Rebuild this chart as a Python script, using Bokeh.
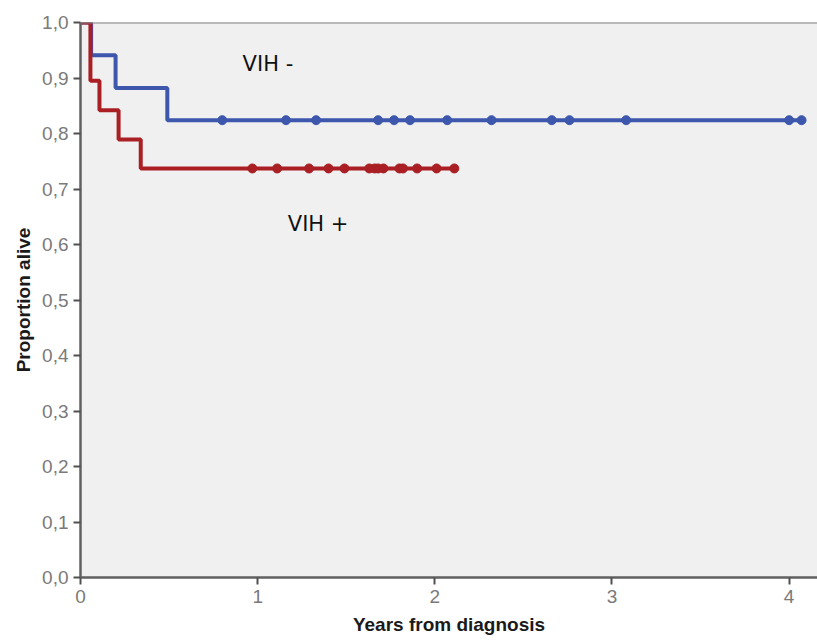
from bokeh.plotting import figure
from bokeh.models import Range1d, FixedTicker, CustomJSTickFormatter, Span, Label
from bokeh.embed import file_html
from bokeh.resources import INLINE

# Kaplan-Meier steps (time in years, proportion alive)
neg_time = [0.0, 0.06, 0.198, 0.49, 4.09]
neg_surv = [1.0, 0.941, 0.882, 0.824, 0.824]
neg_cens = [0.80, 1.16, 1.33, 1.68, 1.77, 1.86, 2.07, 2.32, 2.66, 2.76, 3.08, 4.00, 4.07]

pos_time = [0.0, 0.056, 0.107, 0.215, 0.34, 2.12]
pos_surv = [1.0, 0.895, 0.842, 0.789, 0.737, 0.737]
pos_cens = [0.97, 1.11, 1.29, 1.40, 1.49, 1.63, 1.66, 1.68, 1.71, 1.80, 1.82, 1.90, 2.01, 2.11]

x_ticks = [0, 1, 2, 3, 4]
y_ticks = [0.0, 0.1, 0.2, 0.3, 0.4, 0.5, 0.6, 0.7, 0.8, 0.9, 1.0]

BLUE = "#3d57ad"
RED = "#a91f24"

p = figure(width=817, height=640, output_backend="svg", toolbar_location=None,
           x_range=Range1d(0, 4.16), y_range=Range1d(0, 1.0),
           min_border_left=80, min_border_right=0, min_border_top=22, min_border_bottom=63)
p.background_fill_color = "#f0f0f0"
p.border_fill_color = "white"
p.outline_line_color = None
p.grid.visible = False

top = Span(location=1.0, dimension="width", line_color="#808080", line_width=2)
p.add_layout(top)

p.step(neg_time, neg_surv, mode="after", line_color=BLUE, line_width=4)
p.scatter(neg_cens, [neg_surv[-1]] * len(neg_cens), marker="circle", size=9,
          fill_color=BLUE, line_color=BLUE)
p.step(pos_time, pos_surv, mode="after", line_color=RED, line_width=4)
p.scatter(pos_cens, [pos_surv[-1]] * len(pos_cens), marker="circle", size=9,
          fill_color=RED, line_color=RED)

p.add_layout(Label(x=0.915, y=0.903, text="VIH -", text_font="DejaVu Sans",
                   text_font_size="21px", text_color="#111111"))
p.add_layout(Label(x=1.17, y=0.616, text="VIH +", text_font="DejaVu Sans",
                   text_font_size="21px", text_color="#111111"))

fmt = CustomJSTickFormatter(code="return tick.toFixed(1).replace('.', ',');")
p.yaxis.ticker = FixedTicker(ticks=y_ticks)
p.yaxis.formatter = fmt
p.xaxis.ticker = FixedTicker(ticks=x_ticks)

for ax in (p.xaxis, p.yaxis):
    ax.axis_line_color = "#606060"
    ax.axis_line_width = 2.5
    ax.major_tick_line_color = "#505050"
    ax.major_tick_line_width = 2
    ax.major_tick_out = 7
    ax.major_tick_in = 0
    ax.minor_tick_line_color = None
    ax.major_label_text_color = "#7a7a7a"
    ax.major_label_text_font = "Liberation Sans"
    ax.major_label_text_font_size = "19px"
    ax.axis_label_text_font = "Liberation Sans"
    ax.axis_label_text_font_style = "bold"
    ax.axis_label_text_font_size = "19px"
    ax.axis_label_text_color = "#1a1a1a"

p.xaxis.axis_label = "Years from diagnosis"
p.yaxis.axis_label = "Proportion alive"
p.xaxis.major_label_standoff = 5
p.xaxis.axis_label_standoff = 8
p.yaxis.major_label_standoff = 5
p.yaxis.axis_label_standoff = 5

open("out.html", "w").write(file_html(p, INLINE))
